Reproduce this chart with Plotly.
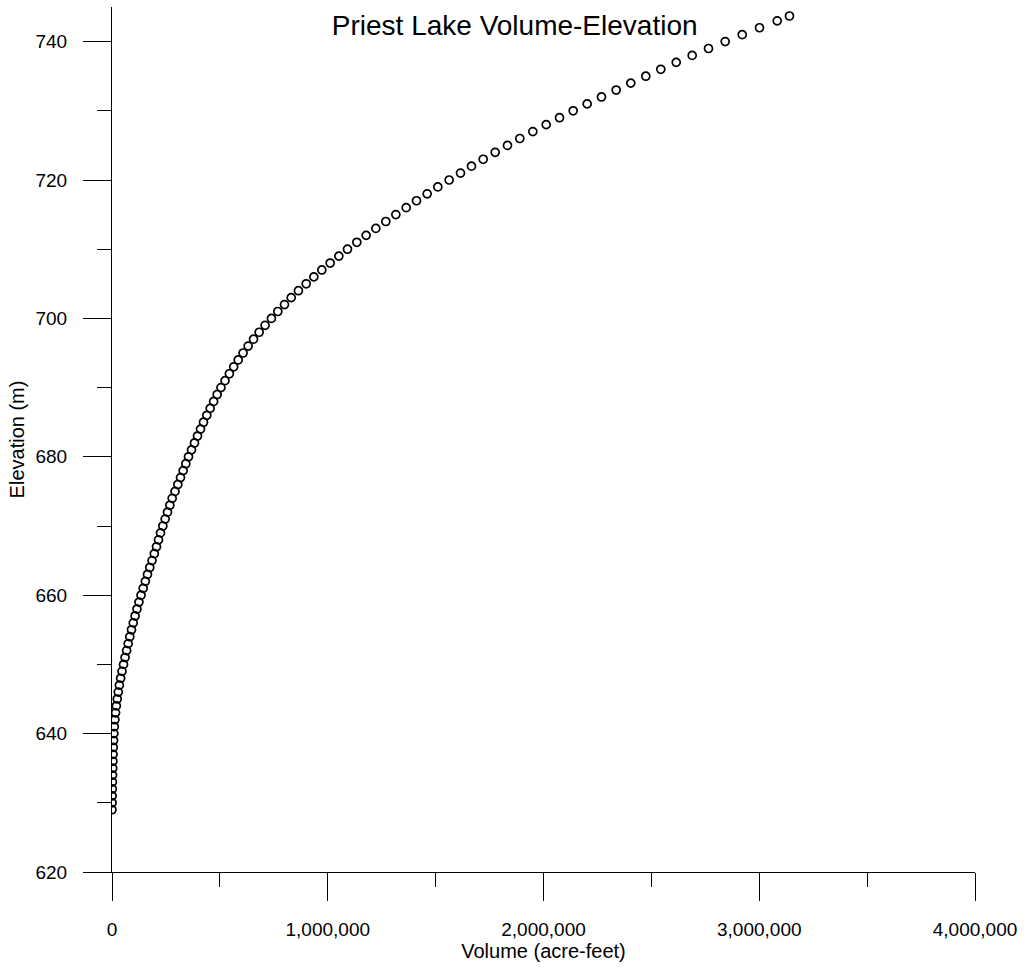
import plotly.graph_objects as go

# Priest Lake storage table: lake surface elevation (m) and stored volume (acre-feet)
elevation_m = list(range(629, 744)) + [743.7]

volume_acft = [
    0, 400, 900, 1400, 2000, 2600, 3300, 4100, 5000, 6000,            # 629-638
    7200, 8600, 10800, 13500, 16600, 20200, 24300, 29000, 34200, 40000,  # 639-648
    46300, 53500, 60500, 67800, 75000, 82600, 90400, 98500, 107000, 115600,  # 649-658
    124800, 134500, 144500, 154500, 164500, 175000, 185500, 196000, 206300, 215500,  # 659-668
    224800, 235600, 246400, 257200, 268100, 278900, 292000, 305100, 317500, 329800,  # 669-678
    342200, 354600, 368500, 382400, 396300, 410200, 424100, 439500, 455000, 471000,  # 679-688
    487500, 505000, 524000, 544000, 564000, 585000, 607500, 631000, 656000, 682000,  # 689-698
    709500, 739000, 768600, 799500, 830600, 864000, 900000, 935500, 972600, 1011200,  # 699-708
    1051400, 1091500, 1134800, 1178000, 1222900, 1269200, 1315600, 1363500, 1411400, 1460800,  # 709-718
    1510200, 1562700, 1615300, 1666300, 1720400, 1776000, 1833100, 1890300, 1950500, 2012400,  # 719-728
    2074200, 2137500, 2202400, 2268800, 2336900, 2404600, 2474200, 2543700, 2615100, 2689200,  # 729-738
    2764800, 2842100, 2921000, 3001200, 3083200, 3140200,  # 739-743.7
]

x_tickvals = [0, 1000000, 2000000, 3000000, 4000000]
y_tickvals = [620, 640, 660, 680, 700, 720, 740]

FONT = "Liberation Sans, Arial, sans-serif"

fig = go.Figure(
    go.Scatter(
        x=volume_acft,
        y=elevation_m,
        mode="markers",
        marker=dict(symbol="circle-open", size=8, color="black",
                    line=dict(color="black", width=1.7)),
        hoverinfo="x+y",
    )
)

fig.update_layout(
    width=1024,
    height=967,
    paper_bgcolor="white",
    plot_bgcolor="white",
    showlegend=False,
    margin=dict(l=112, r=49, t=7, b=95),
    font=dict(family=FONT, size=19, color="black"),
    title=dict(
        text="Priest Lake Volume-Elevation",
        font=dict(family=FONT, size=28, color="black"),
        x=0.5026, xref="container", xanchor="center",
        y=1 - 25 / 967, yref="container", yanchor="middle",
    ),
)

fig.update_xaxes(
    range=[0, 4000000],
    tickvals=x_tickvals,
    tickformat=",d",
    showgrid=False,
    zeroline=False,
    showline=True,
    linecolor="black",
    linewidth=1,
    ticks="outside",
    ticklen=28,
    tickwidth=1,
    tickcolor="black",
    ticklabelstandoff=12,
    tickfont=dict(family=FONT, size=19, color="black"),
    minor=dict(dtick=500000, ticks="outside", ticklen=14, tickwidth=1,
               tickcolor="black", showgrid=False),
    title=dict(text="Volume (acre-feet)", standoff=0,
               font=dict(family=FONT, size=20, color="black")),
)

fig.update_yaxes(
    range=[620, 745],
    tickvals=y_tickvals,
    showgrid=False,
    zeroline=False,
    showline=True,
    linecolor="black",
    linewidth=1,
    ticks="outside",
    ticklen=28,
    tickwidth=1,
    tickcolor="black",
    ticklabelstandoff=12,
    tickfont=dict(family=FONT, size=19, color="black"),
    minor=dict(dtick=10, ticks="outside", ticklen=14, tickwidth=1,
               tickcolor="black", showgrid=False),
    title=dict(text="Elevation (m)", standoff=5,
               font=dict(family=FONT, size=20, color="black")),
)

fig.write_html("out.html")
